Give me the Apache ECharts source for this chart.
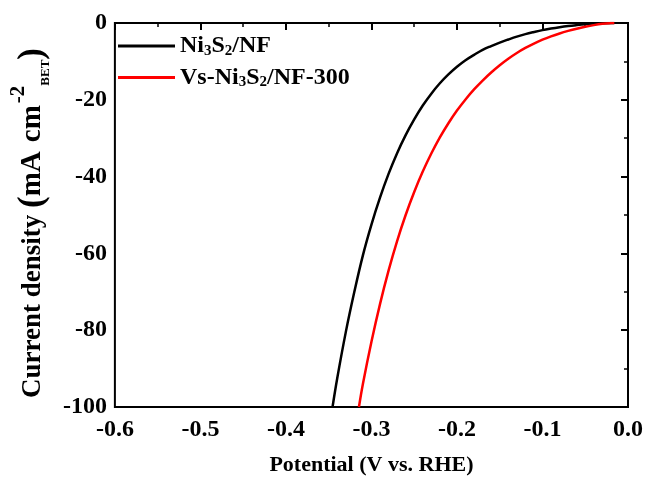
<!DOCTYPE html>
<html>
<head>
<meta charset="utf-8">
<script src="https://cdn.jsdelivr.net/npm/echarts@6/dist/echarts.min.js"></script>
<style>html,body{margin:0;padding:0;background:#fff}#c{width:646px;height:481px}</style>
</head>
<body>
<div id="c"></div>
<script>
var seriesNames = ['Ni3S2/NF', 'Vs-Ni3S2/NF-300'];
var xTicks = [-0.6, -0.5, -0.4, -0.3, -0.2, -0.1, 0.0];
var yTicks = [-100, -80, -60, -40, -20, 0];

var blackPotential = [-0.3455, -0.340, -0.330, -0.320, -0.310, -0.300, -0.290, -0.280, -0.270, -0.260, -0.250, -0.240, -0.230, -0.220, -0.210, -0.200, -0.190, -0.180, -0.170, -0.160, -0.150, -0.140, -0.130, -0.120, -0.110, -0.100, -0.090, -0.080, -0.070, -0.060, -0.050, -0.040, -0.030, -0.016];
var blackCurrent   = [-100, -92.5, -80.5, -70.0, -60.5, -52.5, -45.5, -39.3, -33.9, -29.2, -25.1, -21.5, -18.4, -15.7, -13.4, -11.4, -9.7, -8.3, -7.0, -6.0, -5.1, -4.3, -3.55, -2.9, -2.35, -1.85, -1.45, -1.1, -0.8, -0.55, -0.33, -0.16, -0.05, 0];

var redPotential = [-0.3146, -0.310, -0.300, -0.290, -0.280, -0.270, -0.260, -0.250, -0.240, -0.230, -0.220, -0.210, -0.200, -0.190, -0.180, -0.170, -0.160, -0.150, -0.140, -0.130, -0.120, -0.110, -0.100, -0.090, -0.080, -0.070, -0.060, -0.050, -0.040, -0.030, -0.020, -0.016];
var redCurrent   = [-100, -94.0, -83.0, -73.2, -64.5, -56.8, -50.0, -44.0, -38.7, -34.0, -29.8, -26.1, -22.8, -19.9, -17.3, -15.0, -12.9, -11.0, -9.3, -7.8, -6.5, -5.35, -4.35, -3.48, -2.72, -2.06, -1.48, -0.98, -0.55, -0.22, -0.03, 0];

function pairs(xs, ys) { return xs.map(function (x, i) { return [x, ys[i]]; }); }

var FONT = '"Liberation Serif", "Times New Roman", serif';
var chart = echarts.init(document.getElementById('c'));
chart.setOption({
  animation: false,
  backgroundColor: '#fff',
  grid: { left: 114, right: 18, top: 23, bottom: 74, show: true, borderColor: '#000', borderWidth: 2, backgroundColor: 'transparent' },
  legend: {
    orient: 'vertical', left: 113, top: 29, itemWidth: 57, itemHeight: 3, itemGap: 7, icon: 'rect',
    data: seriesNames,
    formatter: function (name) {
      if (name === seriesNames[0]) return '{n|Ni}{s|3}{n|S}{s|2}{n|/NF}';
      return '{n|Vs-Ni}{s|3}{n|S}{s|2}{n|/NF-300}';
    },
    textStyle: {
      fontFamily: FONT, fontWeight: 'bold', fontSize: 24, color: '#000',
      rich: {
        n: { fontFamily: FONT, fontWeight: 'bold', fontSize: 24, color: '#000', lineHeight: 23 },
        s: { fontFamily: FONT, fontWeight: 'bold', fontSize: 15, color: '#000', lineHeight: 23, verticalAlign: 'bottom', padding: [0, 0, -1, 0] }
      }
    }
  },
  xAxis: {
    type: 'value', min: -0.6, max: 0, interval: 0.1,
    name: 'Potential (V vs. RHE)', nameLocation: 'middle', nameGap: 47,
    nameTextStyle: { fontFamily: FONT, fontWeight: 'bold', fontSize: 22, color: '#000' },
    axisLine: { show: true, lineStyle: { color: '#000', width: 2 } },
    axisTick: { show: true, inside: false, length: 7, lineStyle: { color: '#000', width: 2 } },
    minorTick: { show: true, splitNumber: 2, length: 4, lineStyle: { color: '#000', width: 1.5 } },
    splitLine: { show: false },
    axisLabel: {
      margin: 11, fontFamily: FONT, fontWeight: 'bold', fontSize: 24, color: '#000',
      formatter: function (v) { return (Math.abs(v) < 1e-9 ? 0 : v).toFixed(1); }
    }
  },
  yAxis: {
    type: 'value', min: -100, max: 0, interval: 20,
    name: '{n|Current density }{p|(}{m|mA}{g| }{m|cm}{sup|-2}{sub|BET}{p|)}', nameLocation: 'middle', nameGap: 47,
    nameTextStyle: {
      fontFamily: FONT, fontWeight: 'bold', fontSize: 27, color: '#000', padding: [0, 16, 0, 0],
      rich: {
        n: { fontFamily: FONT, fontWeight: 'bold', fontSize: 27, color: '#000', lineHeight: 32 },
        m: { fontFamily: FONT, fontWeight: 'bold', fontSize: 29, color: '#000', lineHeight: 32 },
        g: { fontFamily: FONT, fontWeight: 'bold', fontSize: 29, color: '#000', lineHeight: 32, width: 9 },
        p: { fontFamily: FONT, fontWeight: 'bold', fontSize: 35, color: '#000', lineHeight: 32 },
        sup: { fontFamily: FONT, fontWeight: 'bold', fontSize: 21, color: '#000', lineHeight: 32, verticalAlign: 'top', padding: [-9, 0, 0, 2] },
        sub: { fontFamily: FONT, fontWeight: 'bold', fontSize: 13, color: '#000', lineHeight: 32, verticalAlign: 'bottom', padding: [0, 0, -3, 0] }
      }
    },
    axisLine: { show: true, lineStyle: { color: '#000', width: 2 } },
    axisTick: { show: true, inside: false, length: 7, lineStyle: { color: '#000', width: 2 } },
    minorTick: { show: true, splitNumber: 2, length: 4, lineStyle: { color: '#000', width: 1.5 } },
    splitLine: { show: false },
    axisLabel: { margin: 8, fontFamily: FONT, fontWeight: 'bold', fontSize: 24, color: '#000' }
  },
  series: [
    { name: seriesNames[0], type: 'line', data: pairs(blackPotential, blackCurrent), showSymbol: false, symbol: 'none', smooth: 0.4, lineStyle: { color: '#000', width: 2.5 }, itemStyle: { color: '#000' } },
    { name: seriesNames[1], type: 'line', data: pairs(redPotential, redCurrent), showSymbol: false, symbol: 'none', smooth: 0.4, lineStyle: { color: '#ff0000', width: 2.5 }, itemStyle: { color: '#ff0000' } }
  ]
});
</script>
</body>
</html>
